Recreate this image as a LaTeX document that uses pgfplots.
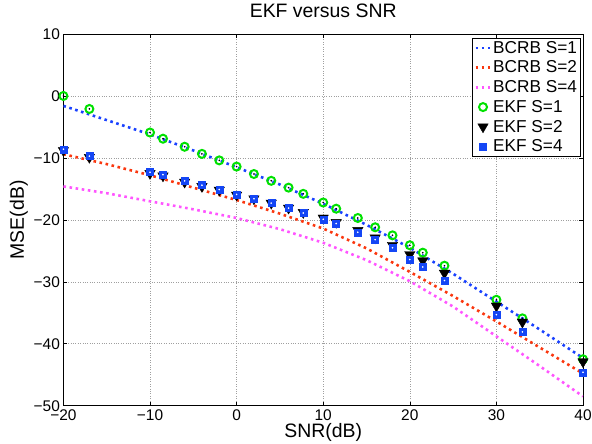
\documentclass[border=0pt]{standalone}
\usepackage{fontspec}
\setmainfont{Liberation Sans}
\usepackage{pgfplots}
\pgfplotsset{compat=1.18}
\definecolor{cblue}{RGB}{25,65,255}
\definecolor{cred}{RGB}{250,55,15}
\definecolor{cmag}{RGB}{255,85,255}
\definecolor{cgreen}{RGB}{0,225,0}
\definecolor{csq}{RGB}{20,70,245}
\begin{document}
\begin{tikzpicture}
\path[use as bounding box] (-63.4bp,-38.3bp) rectangle (528.6bp,405.7bp);
\begin{axis}[
  at={(0,0)}, anchor=south west,
  scale only axis, width=519.6bp, height=371.7bp,
  xmin=-20, xmax=40, ymin=-50, ymax=10,
  xtick={-20,-10,...,40}, ytick={-50,-40,...,10},
  xticklabels={−20,−10,0,10,20,30,40},
  yticklabels={−50,−40,−30,−20,−10,0,10},
  grid=major, grid style={dotted, gray!75, line width=0.6pt},
  tick align=inside, major tick length=4bp,
  axis line style={line width=1pt},
  every tick/.style={black, line width=0.6pt},
  tick label style={font=\fontsize{15.5}{18}\selectfont},
  label style={font=\fontsize{19.5}{22}\selectfont},
  title style={font=\fontsize{19.5}{22}\selectfont, yshift=7bp},
  title={EKF versus SNR},
  xlabel={SNR(dB)}, ylabel={MSE(dB)},
  xlabel style={yshift=4bp}, ylabel style={yshift=-1bp},
  legend style={at={(rel axis cs:0.995,0.99)}, anchor=north east, draw=black, line width=0.8pt,
    font=\fontsize{17.3}{19}\selectfont, row sep=3.2bp, inner sep=1.5bp, cells={anchor=west},
    nodes={inner sep=1.5bp}},
  legend cell align=left,
  legend image code/.code={\draw[mark repeat=2,mark phase=2,#1,line width=2.6pt] plot coordinates {(0cm,0cm) (0.26cm,0cm) (0.52cm,0cm)};},
]
\addplot[cblue, line width=2.6pt, dash pattern=on 2.6pt off 3.6pt] coordinates {
(-20,-1.6) (-15,-3.9) (-10,-6.2) (-5,-8.8) (0,-11.5) (5,-14.3) (10,-17.4)
(15,-20.8) (20,-24.5) (25,-28.7) (30,-33.2) (35,-37.7) (40,-42.3)};
\addlegendentry{BCRB S=1}
\addplot[cred, line width=2.6pt, dash pattern=on 2.6pt off 3.6pt] coordinates {
(-20,-9.4) (-15,-11.0) (-10,-12.8) (-5,-14.8) (0,-16.8) (5,-19.0) (10,-21.4)
(15,-24.6) (20,-28.4) (25,-32.3) (30,-36.4) (35,-40.6) (40,-44.8)};
\addlegendentry{BCRB S=2}
\addplot[cmag, line width=2.6pt, dash pattern=on 2.6pt off 3.6pt] coordinates {
(-20,-14.6) (-15,-15.7) (-10,-17.0) (-5,-18.3) (0,-19.7) (5,-21.5) (10,-23.7)
(15,-26.5) (20,-29.9) (25,-34.0) (30,-38.8) (35,-43.6) (40,-48.5)};
\addlegendentry{BCRB S=4}
\addplot[only marks, mark=o, mark size=4bp, mark options={cgreen, line width=2pt}] coordinates {
(-20,0) (-17,-2.1) (-10,-5.9) (-8.5,-6.9) (-6,-8.2) (-4,-9.35) (-2,-10.4) (0,-11.4)
(2,-12.6) (4,-13.7) (6,-14.8) (7.7,-15.8) (10,-17.2) (11.5,-18.2) (14,-19.7) (16,-21.2)
(18,-22.5) (20,-24.1) (21.5,-25.3) (24,-27.4) (30,-32.9) (33,-35.9) (40,-42.5)};
\addlegendentry{EKF S=1}
\addplot[only marks, mark=triangle*, mark size=6bp, mark options={black, fill=black, rotate=180, line width=0.4pt}] coordinates {
(-20,-8.8) (-17,-9.9) (-10,-12.5) (-8.5,-12.9) (-6,-13.9) (-4,-14.6) (-2,-15.2) (0,-16.0)
(2,-16.6) (4,-17.3) (6,-18.1) (7.7,-18.8) (10,-19.7) (11.5,-20.4) (14,-21.7) (16,-22.9)
(18,-24.1) (20,-25.6) (21.5,-26.6) (24,-28.6) (30,-33.9) (33,-36.5) (40,-42.9)};
\addlegendentry{EKF S=2}
\addplot[only marks, mark=square*, mark size=3.5bp, mark options={csq, fill=csq, line width=0.4pt}] coordinates {
(-20,-8.6) (-17,-9.7) (-10,-12.3) (-8.5,-12.7) (-6,-13.7) (-4,-14.4) (-2,-15.1) (0,-15.9)
(2,-16.6) (4,-17.3) (6,-18.1) (7.7,-18.9) (10,-19.9) (11.5,-20.6) (14,-22.0) (16,-23.2)
(18,-24.5) (20,-26.4) (21.5,-27.6) (24,-29.8) (30,-35.3) (33,-38.1) (40,-44.6)};
\addlegendentry{EKF S=4}
\addplot[only marks, mark=*, mark size=0.6bp, mark options={black}, forget plot] coordinates {
(-20,0) (-17,-2.1) (-10,-5.9) (-8.5,-6.9) (-6,-8.2) (-4,-9.35) (-2,-10.4) (0,-11.4)
(2,-12.6) (4,-13.7) (6,-14.8) (7.7,-15.8) (10,-17.2) (11.5,-18.2) (14,-19.7) (16,-21.2)
(18,-22.5) (20,-24.1) (21.5,-25.3) (24,-27.4) (30,-32.9) (33,-35.9) (40,-42.5)};
\addplot[only marks, mark=*, mark size=0.6bp, mark options={white}, forget plot] coordinates {
(-20,-8.6) (-17,-9.7) (-10,-12.3) (-8.5,-12.7) (-6,-13.7) (-4,-14.4) (-2,-15.1) (0,-15.9)
(2,-16.6) (4,-17.3) (6,-18.1) (7.7,-18.9) (10,-19.9) (11.5,-20.6) (14,-22.0) (16,-23.2)
(18,-24.5) (20,-26.4) (21.5,-27.6) (24,-29.8) (30,-35.3) (33,-38.1) (40,-44.6)};
\end{axis}
\end{tikzpicture}
\end{document}
